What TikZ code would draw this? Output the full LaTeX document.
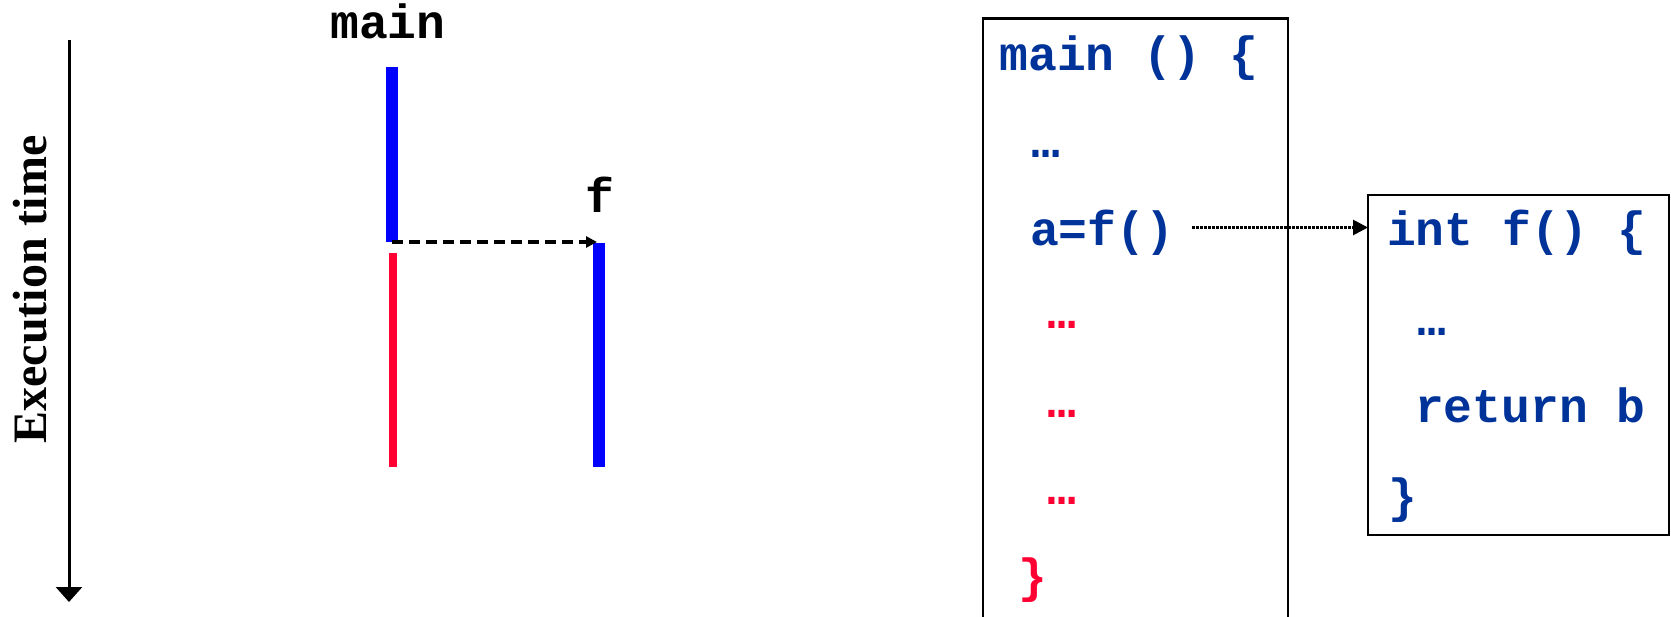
\documentclass[tikz,border=0pt]{standalone}
\usepackage{fontspec}
\setmainfont{Liberation Serif}
\newfontfamily\codefont{Liberation Mono}
\usetikzlibrary{arrows.meta}
\definecolor{codeblue}{RGB}{0,51,153}
\definecolor{barblue}{RGB}{0,0,255}
\definecolor{barred}{RGB}{255,0,51}
\begin{document}
\begin{tikzpicture}[x=1pt,y=-1pt,
  code/.style={font=\codefont\bfseries\fontsize{48}{58}\selectfont, inner sep=0pt, outer sep=0pt},
  bluecode/.style={code, text=codeblue},
  redcode/.style={code, text=barred},
  bar/.style={rectangle, draw=none, inner sep=0pt, outer sep=0pt, anchor=north},
  codebox/.style={rectangle, draw=black, line width=2.5pt, inner sep=0pt, outer sep=0pt, anchor=north west},
  timearrow/.style={line width=3pt, -{Triangle[width=26pt,length=15pt]}},
  callarrow/.style={line width=3.4pt, dash pattern=on 11pt off 6pt, -{Triangle[width=11pt,length=11pt]}},
  linkarrow/.style={line width=2.8pt, dash pattern=on 2.5pt off 1.5pt, -{Triangle[width=15pt,length=15pt]}}]
\useasboundingbox (0,0) rectangle (1671,617);
\clip (0,0) rectangle (1671,617);

% time axis
\coordinate (ttop) at (69,40);
\coordinate (tbot) at (69,602);
\draw[timearrow] (ttop) -- (tbot);
\node[font=\bfseries\fontsize{48}{58}\selectfont, rotate=90, inner sep=0pt] (tlabel) at (30,289.5) {Execution time};

% labels
\node[code, anchor=base] (mainlbl) at (388,39) {main};
\node[code, anchor=base] (flbl) at (600,213) {f};

% bars
\node[bar, fill=barblue, minimum width=12pt, minimum height=175pt] (mainbar) at (392,67) {};
\node[bar, fill=barred, minimum width=8pt, minimum height=214pt] (redbar) at (393,253) {};
\node[bar, fill=barblue, minimum width=12pt, minimum height=224pt] (fbar) at (599,243) {};
\draw[callarrow] (mainbar.south) -- ([xshift=4pt]fbar.north west |- mainbar.south);

% main box
\node[codebox, minimum width=305pt, minimum height=660pt] (mainbox) at (983,18.5) {};
\node[bluecode, anchor=base west] (l1) at (999.5,71) {main () \{};
\node[bluecode, anchor=center] (l2) at (1045.5,154) {…};
\node[bluecode, anchor=base west] (call) at (1030,246) {a=f()};
\node[redcode, anchor=center] (r1) at (1061.5,324.5) {…};
\node[redcode, anchor=center] (r2) at (1061.5,413.5) {…};
\node[redcode, anchor=center] (r3) at (1061.5,500.5) {…};
\node[redcode, anchor=center] (r4) at (1032.5,580) {\}};

% f box
\node[codebox, minimum width=301pt, minimum height=340pt] (fbox) at (1368,195) {};
\node[bluecode, anchor=base west] (f1) at (1387,246) {int f() \{};
\node[bluecode, anchor=center] (f2) at (1431.5,331.5) {…};
\node[bluecode, anchor=base west] (f3) at (1415,423) {return b};
\node[bluecode, anchor=center] (f4) at (1402.5,500) {\}};

% link arrow
\coordinate (linkstart) at (1192,227.5);
\draw[linkarrow] (linkstart) -- (linkstart -| fbox.west);
\end{tikzpicture}
\end{document}
